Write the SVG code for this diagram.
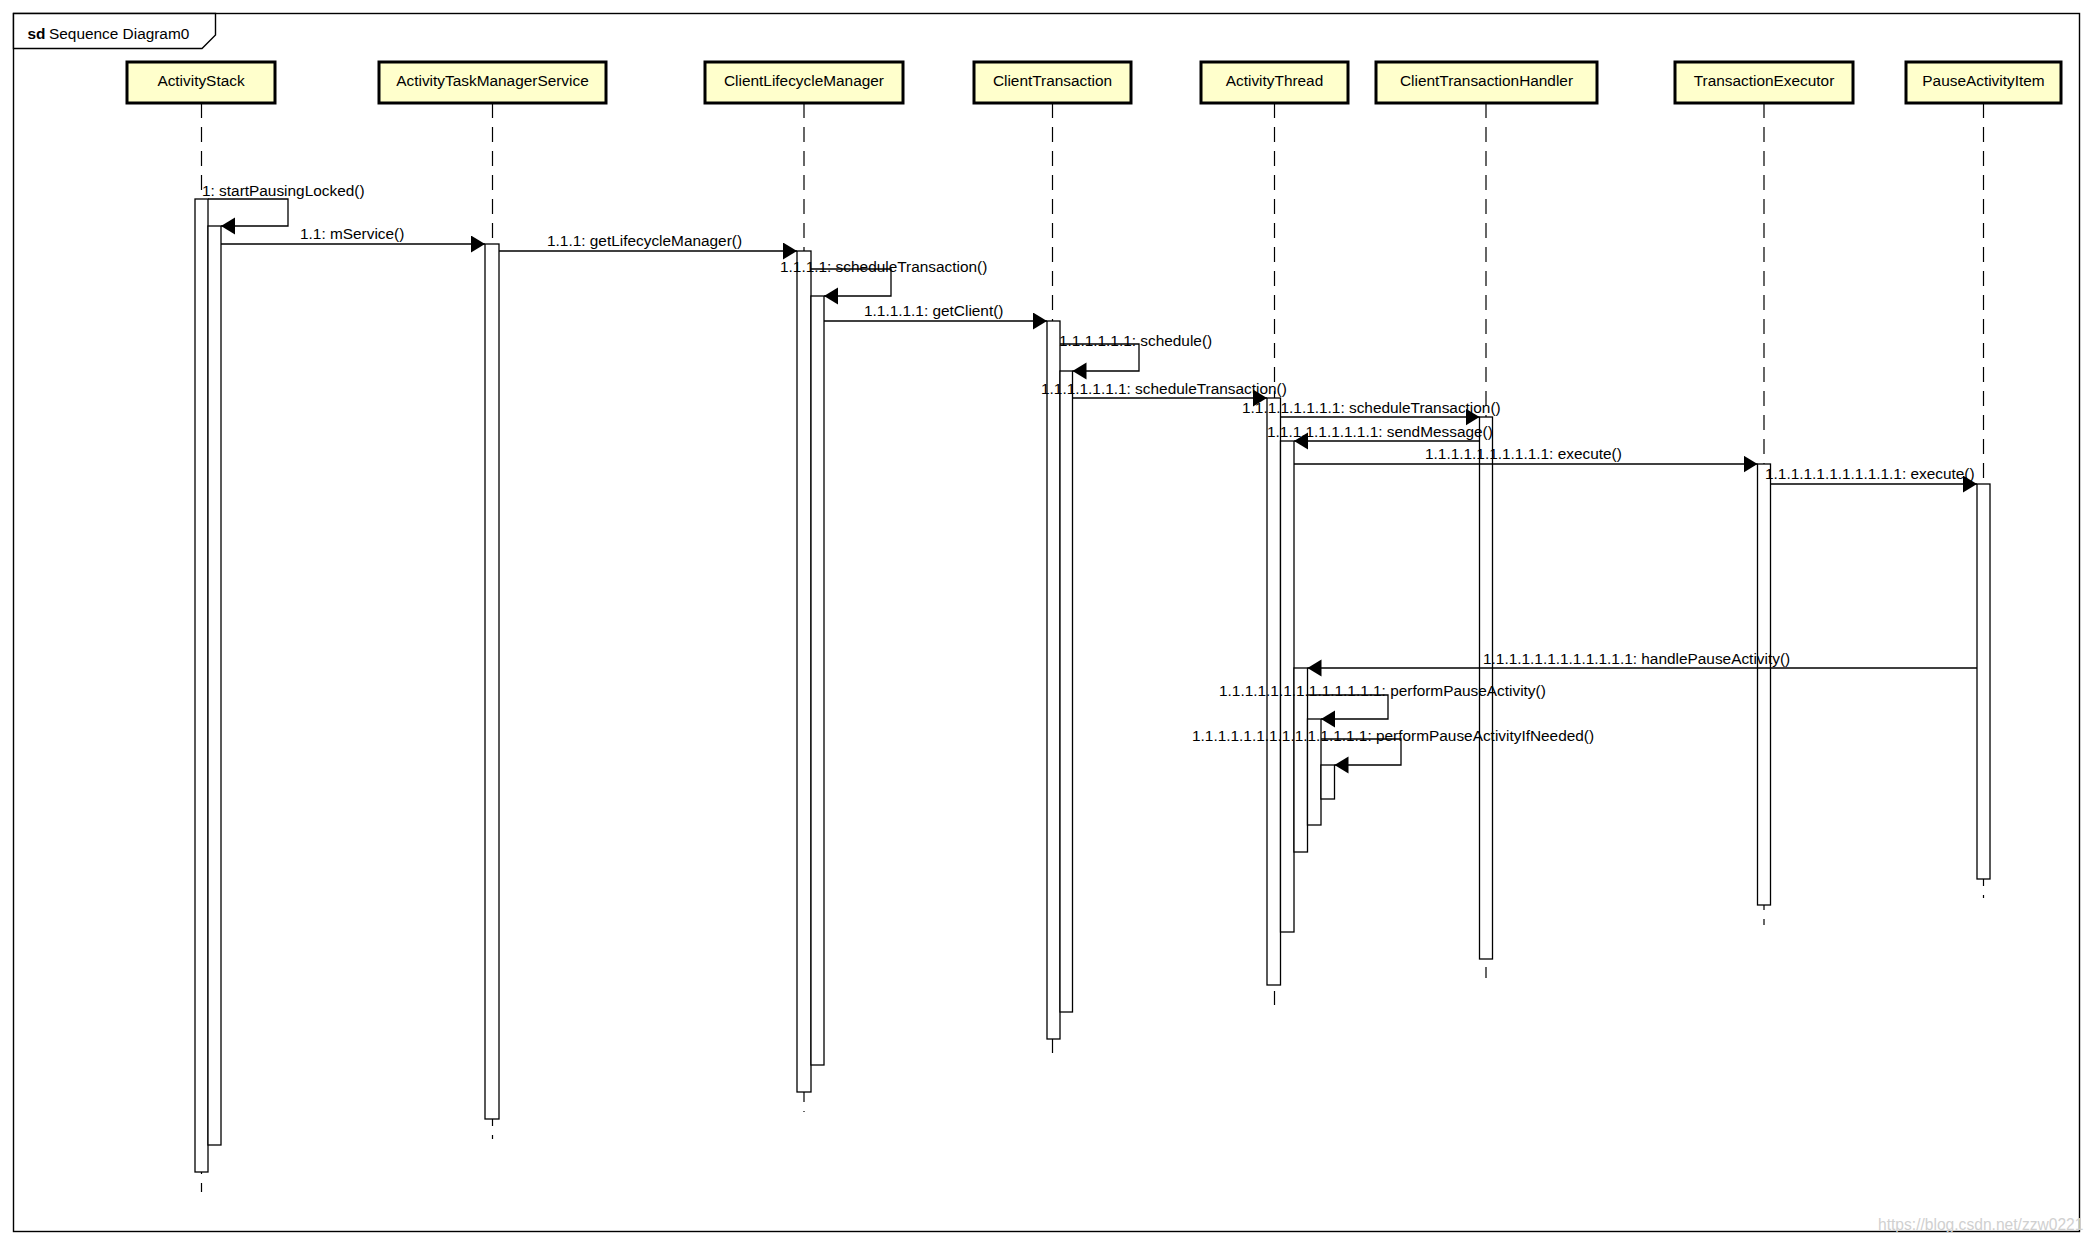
<svg xmlns="http://www.w3.org/2000/svg" width="2093" height="1245" viewBox="0 0 2093 1245">
<style>
text{font-family:"Liberation Sans",Arial,sans-serif;font-size:15.4px;fill:#000}
.box{fill:#FFFFCC;stroke:#000;stroke-width:3}
.life{stroke:#000;stroke-width:1.2;stroke-dasharray:15 9;fill:none}
.act{fill:#fff;stroke:#000;stroke-width:1.3}
.msg{fill:none;stroke:#000;stroke-width:1.3;marker-end:url(#ah)}
.nl{text-anchor:middle}
</style>
<defs>
<marker id="ah" markerUnits="userSpaceOnUse" markerWidth="16" markerHeight="18" refX="14" refY="8.5" orient="auto">
<path d="M0,0 L14,8.5 L0,17 z" fill="#000"/>
</marker>
</defs>
<rect width="2093" height="1245" fill="#fff"/>
<g id="frame">
<rect x="13.5" y="13.5" width="2066" height="1218" fill="none" stroke="#000" stroke-width="1.4"/>
<polygon points="13.5,13.5 215.5,13.5 215.5,35 202,48.5 13.5,48.5" fill="#fff" stroke="#000" stroke-width="1.4"/>
<text x="27.5" y="38.5" font-weight="bold">sd</text>
<text x="49" y="38.5">Sequence Diagram0</text>
</g>
<g id="ActivityStack">
<line class="life" x1="201.5" y1="103" x2="201.5" y2="1192"/>
<rect class="box" x="127" y="62" width="148" height="41"/>
<text class="nl" x="201" y="86">ActivityStack</text>
<rect class="act" x="195" y="199" width="13" height="973"/>
<rect class="act" x="208" y="226" width="13" height="919"/>
</g>
<g id="ActivityTaskManagerService">
<line class="life" x1="492.5" y1="103" x2="492.5" y2="1139"/>
<rect class="box" x="379" y="62" width="227" height="41"/>
<text class="nl" x="492.5" y="86">ActivityTaskManagerService</text>
<rect class="act" x="485" y="244" width="14" height="875"/>
</g>
<g id="ClientLifecycleManager">
<line class="life" x1="804" y1="103" x2="804" y2="1112"/>
<rect class="box" x="705" y="62" width="198" height="41"/>
<text class="nl" x="804" y="86">ClientLifecycleManager</text>
<rect class="act" x="797" y="251" width="14" height="841"/>
<rect class="act" x="811" y="296" width="13" height="769"/>
</g>
<g id="ClientTransaction">
<line class="life" x1="1052.5" y1="103" x2="1052.5" y2="1053"/>
<rect class="box" x="974" y="62" width="157" height="41"/>
<text class="nl" x="1052.5" y="86">ClientTransaction</text>
<rect class="act" x="1047" y="321" width="13" height="718"/>
<rect class="act" x="1060" y="371" width="12.5" height="641"/>
</g>
<g id="ActivityThread">
<line class="life" x1="1274.5" y1="103" x2="1274.5" y2="1005"/>
<rect class="box" x="1201" y="62" width="147" height="41"/>
<text class="nl" x="1274.5" y="86">ActivityThread</text>
<rect class="act" x="1267" y="398" width="13.5" height="587"/>
<rect class="act" x="1280.5" y="441" width="13.5" height="491"/>
<rect class="act" x="1294" y="668" width="13.5" height="184"/>
<rect class="act" x="1307.5" y="719" width="13.5" height="106"/>
<rect class="act" x="1321" y="765" width="13.5" height="34"/>
</g>
<g id="ClientTransactionHandler">
<line class="life" x1="1486" y1="103" x2="1486" y2="978"/>
<rect class="box" x="1376" y="62" width="221" height="41"/>
<text class="nl" x="1486.5" y="86">ClientTransactionHandler</text>
<rect class="act" x="1479.5" y="417" width="13" height="542"/>
</g>
<g id="TransactionExecutor">
<line class="life" x1="1764" y1="103" x2="1764" y2="925"/>
<rect class="box" x="1675" y="62" width="178" height="41"/>
<text class="nl" x="1764" y="86">TransactionExecutor</text>
<rect class="act" x="1757.5" y="464" width="13" height="441"/>
</g>
<g id="PauseActivityItem">
<line class="life" x1="1983.5" y1="103" x2="1983.5" y2="898"/>
<rect class="box" x="1906" y="62" width="155" height="41"/>
<text class="nl" x="1983.5" y="86">PauseActivityItem</text>
<rect class="act" x="1977" y="484" width="13" height="395"/>
</g>
<g id="connectors">
<polyline class="msg" points="208,199 288,199 288,226 221,226"/>
<line class="msg" x1="221" y1="244" x2="485" y2="244"/>
<line class="msg" x1="499" y1="251" x2="797" y2="251"/>
<polyline class="msg" points="811,269 891,269 891,296 824,296"/>
<line class="msg" x1="824" y1="321" x2="1047" y2="321"/>
<polyline class="msg" points="1060,344 1139,344 1139,371 1072.5,371"/>
<line class="msg" x1="1072.5" y1="398" x2="1267" y2="398"/>
<line class="msg" x1="1280.5" y1="417" x2="1479.5" y2="417"/>
<line class="msg" x1="1479.5" y1="441" x2="1294" y2="441"/>
<line class="msg" x1="1294" y1="464" x2="1757.5" y2="464"/>
<line class="msg" x1="1770.5" y1="484" x2="1977" y2="484"/>
<line class="msg" x1="1977" y1="668" x2="1307.5" y2="668"/>
<polyline class="msg" points="1307.5,695 1388,695 1388,719 1321,719"/>
<polyline class="msg" points="1321,739 1401,739 1401,765 1334.5,765"/>
<text x="202" y="195.5">1: startPausingLocked()</text>
<text x="300" y="238.5">1.1: mService()</text>
<text x="547" y="245.5">1.1.1: getLifecycleManager()</text>
<text x="780" y="271.5">1.1.1.1: scheduleTransaction()</text>
<text x="864" y="315.5">1.1.1.1.1: getClient()</text>
<text x="1059" y="345.5">1.1.1.1.1.1: schedule()</text>
<text x="1041" y="393.5">1.1.1.1.1.1.1: scheduleTransaction()</text>
<text x="1242" y="412.5">1.1.1.1.1.1.1.1: scheduleTransaction()</text>
<text x="1267" y="436.5">1.1.1.1.1.1.1.1.1: sendMessage()</text>
<text x="1425" y="458.5">1.1.1.1.1.1.1.1.1.1: execute()</text>
<text x="1765" y="478.5">1.1.1.1.1.1.1.1.1.1.1: execute()</text>
<text x="1483" y="663.5">1.1.1.1.1.1.1.1.1.1.1.1: handlePauseActivity()</text>
<text x="1219" y="695.5">1.1.1.1.1.1.1.1.1.1.1.1.1: performPauseActivity()</text>
<text x="1192" y="740.5">1.1.1.1.1.1.1.1.1.1.1.1.1.1: performPauseActivityIfNeeded()</text>
</g>
<text x="1878" y="1230" style="font-size:15.6px;fill:#d0d0d0">https://blog.csdn.net/zzw0221</text>
</svg>
